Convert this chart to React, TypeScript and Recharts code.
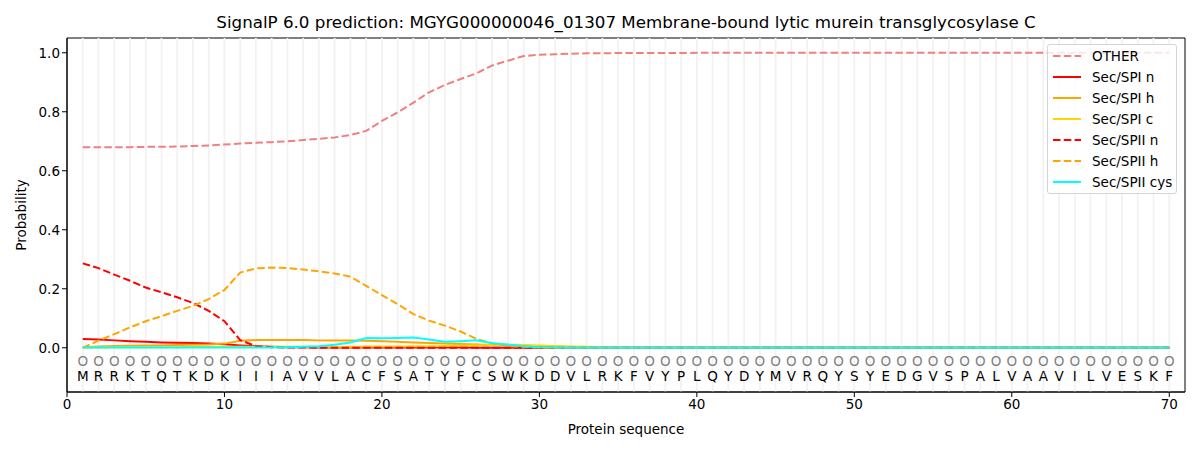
import React from "react";
import {
  ComposedChart,
  Line,
  Scatter,
  XAxis,
  YAxis,
  ReferenceLine,
  ReferenceArea,
  Label,
} from "recharts";

const SEQUENCE = "MRRKTQTKDKIIIAVVLACFSATYFCSWKDDVLRKFVYPLQYDYMVRQYSYEDGVSPALVAAVILVESKF".split("");

const other = [
  0.68, 0.68, 0.68, 0.68, 0.681, 0.681, 0.682, 0.684, 0.686, 0.689,
  0.692, 0.695, 0.697, 0.7, 0.704, 0.708, 0.713, 0.721, 0.735, 0.769,
  0.798, 0.831, 0.866, 0.891, 0.911, 0.93, 0.957, 0.973, 0.989, 0.993,
  0.995, 0.997, 0.998, 0.998, 0.999, 0.999, 0.999, 0.999, 0.999, 1.0,
  1.0, 1.0, 1.0, 1.0, 1.0, 1.0, 1.0, 1.0, 1.0, 1.0,
  1.0, 1.0, 1.0, 1.0, 1.0, 1.0, 1.0, 1.0, 1.0, 1.0,
  1.0, 1.0, 1.0, 1.0, 1.0, 1.0, 1.0, 1.0, 1.0, 1.0,
];
const spiN = [
  0.03, 0.028, 0.025, 0.022, 0.02, 0.018, 0.017, 0.016, 0.014, 0.012,
  0.008, 0.005, 0.003, 0.002, 0.002, 0.001, 0.001, 0.001, 0.001, 0.001,
  0.001, 0.001, 0.001, 0.001, 0.001, 0, 0, 0, 0, 0,
  0, 0, 0, 0, 0, 0, 0, 0, 0, 0,
  0, 0, 0, 0, 0, 0, 0, 0, 0, 0,
  0, 0, 0, 0, 0, 0, 0, 0, 0, 0,
  0, 0, 0, 0, 0, 0, 0, 0, 0, 0,
];
const spiH = [
  0.002, 0.004, 0.006, 0.007, 0.008, 0.008, 0.009, 0.01, 0.011, 0.014,
  0.024, 0.026, 0.026, 0.026, 0.026, 0.025, 0.025, 0.025, 0.024, 0.022,
  0.02, 0.018, 0.016, 0.014, 0.013, 0.011, 0.009, 0.007, 0.005, 0.004,
  0.003, 0.002, 0.001, 0, 0, 0, 0, 0, 0, 0,
  0, 0, 0, 0, 0, 0, 0, 0, 0, 0,
  0, 0, 0, 0, 0, 0, 0, 0, 0, 0,
  0, 0, 0, 0, 0, 0, 0, 0, 0, 0,
];
const spiC = [
  0.001, 0.001, 0.002, 0.002, 0.002, 0.002, 0.002, 0.003, 0.003, 0.003,
  0.003, 0.003, 0.003, 0.003, 0.003, 0.003, 0.003, 0.003, 0.004, 0.004,
  0.004, 0.005, 0.005, 0.006, 0.007, 0.008, 0.009, 0.01, 0.009, 0.008,
  0.006, 0.004, 0.003, 0.002, 0.001, 0, 0, 0, 0, 0,
  0, 0, 0, 0, 0, 0, 0, 0, 0, 0,
  0, 0, 0, 0, 0, 0, 0, 0, 0, 0,
  0, 0, 0, 0, 0, 0, 0, 0, 0, 0,
];
const spiiN = [
  0.286, 0.27, 0.248, 0.227, 0.204, 0.188, 0.171, 0.152, 0.125, 0.09,
  0.026, 0.005, 0.002, 0.001, 0.001, 0, 0, 0, 0, 0,
  0, 0, 0, 0, 0, 0, 0, 0, 0, 0,
  0, 0, 0, 0, 0, 0, 0, 0, 0, 0,
  0, 0, 0, 0, 0, 0, 0, 0, 0, 0,
  0, 0, 0, 0, 0, 0, 0, 0, 0, 0,
  0, 0, 0, 0, 0, 0, 0, 0, 0, 0,
];
const spiiH = [
  0.0, 0.024, 0.046, 0.069, 0.09, 0.107, 0.125, 0.142, 0.165, 0.196,
  0.255, 0.269, 0.272, 0.27, 0.265, 0.259, 0.252, 0.241, 0.21, 0.178,
  0.148, 0.114, 0.092, 0.075, 0.055, 0.03, 0.015, 0.006, 0.003, 0.001,
  0, 0, 0, 0, 0, 0, 0, 0, 0, 0,
  0, 0, 0, 0, 0, 0, 0, 0, 0, 0,
  0, 0, 0, 0, 0, 0, 0, 0, 0, 0,
  0, 0, 0, 0, 0, 0, 0, 0, 0, 0,
];
const spiiCys = [
  0.001, 0.001, 0.001, 0.001, 0.001, 0.001, 0.001, 0.001, 0.001, 0.001,
  0.001, 0.001, 0.001, 0.002, 0.003, 0.005, 0.01, 0.018, 0.033, 0.032,
  0.033, 0.035, 0.028, 0.02, 0.022, 0.025, 0.015, 0.011, 0.005, 0.002,
  0.001, 0, 0, 0, 0, 0, 0, 0, 0, 0,
  0, 0, 0, 0, 0, 0, 0, 0, 0, 0,
  0, 0, 0, 0, 0, 0, 0, 0, 0, 0,
  0, 0, 0, 0, 0, 0, 0, 0, 0, 0,
];

const xTicks = [0, 10, 20, 30, 40, 50, 60, 70];
const yTicks = [0, 0.2, 0.4, 0.6, 0.8, 1.0];

const series = [
  { key: "other", name: "OTHER", color: "#f08080", dashed: true },
  { key: "spiN", name: "Sec/SPI n", color: "#ff0000", dashed: false },
  { key: "spiH", name: "Sec/SPI h", color: "#ffa500", dashed: false },
  { key: "spiC", name: "Sec/SPI c", color: "#ffd700", dashed: false },
  { key: "spiiN", name: "Sec/SPII n", color: "#ff0000", dashed: true },
  { key: "spiiH", name: "Sec/SPII h", color: "#ffa500", dashed: true },
  { key: "spiiCys", name: "Sec/SPII cys", color: "#00ffff", dashed: false },
];

const data = SEQUENCE.map((aa, i) => ({
  pos: i + 1,
  other: other[i],
  spiN: spiN[i],
  spiH: spiH[i],
  spiC: spiC[i],
  spiiN: spiiN[i],
  spiiH: spiiH[i],
  spiiCys: spiiCys[i],
}));

const RESIDUE_Y = -0.045;
const residues = SEQUENCE.map((aa, i) => ({ pos: i + 1, y: RESIDUE_Y, aa }));

const FONT = "'DejaVu Sans', sans-serif";
const DASH = "7.5 3.3";

const ResidueMark = (props: any) => {
  const { cx, cy, payload } = props;
  return (
    <g>
      <text x={cx} y={cy} dy="0.35em" textAnchor="middle" fill="#808080" fontSize={13.5} fontFamily={FONT}>
        O
      </text>
      <text x={cx} y={cy + 15} dy="0.35em" textAnchor="middle" fill="#000" fontSize={13.5} fontFamily={FONT}>
        {payload.aa}
      </text>
    </g>
  );
};

export default function App() {
  return (
    <div style={{ position: "absolute", left: 0, top: 0, width: 1200, height: 450, background: "#fff", fontFamily: FONT }}>
      <div
        style={{
          position: "absolute",
          left: 67,
          width: 1118,
          top: 12,
          textAlign: "center",
          fontSize: 16.7,
          lineHeight: "20px",
          color: "#000",
        }}
      >
        SignalP 6.0 prediction: MGYG000000046_01307 Membrane-bound lytic murein transglycosylase C
      </div>
      <ComposedChart width={1200} height={450} data={data} margin={{ top: 38, right: 15, bottom: 0, left: 0 }}>
        <XAxis
          dataKey="pos"
          type="number"
          domain={[0, 71]}
          ticks={xTicks}
          allowDataOverflow
          height={58}
          tickSize={5}
          stroke="#000"
          tick={{ fill: "#000", fontSize: 13.5, fontFamily: FONT }}
        >
          <Label value="Protein sequence" position="insideBottom" offset={16} fill="#000" fontSize={13.5} fontFamily={FONT} />
        </XAxis>
        <YAxis
          type="number"
          domain={[-0.15, 1.05]}
          ticks={yTicks}
          allowDataOverflow
          width={67}
          tickSize={5}
          stroke="#000"
          tickFormatter={(v: number) => v.toFixed(1)}
          tick={{ fill: "#000", fontSize: 13.5, fontFamily: FONT }}
        >
          <Label value="Probability" angle={-90} position="insideLeft" offset={21} fill="#000" fontSize={13.5} fontFamily={FONT} style={{ textAnchor: "middle" }} />
        </YAxis>
        {data.map((d) => (
          <ReferenceLine key={d.pos} x={d.pos} stroke="#f2f2f2" strokeWidth={1.8} />
        ))}
        {series.map((s) => (
          <Line
            key={s.key}
            dataKey={s.key}
            name={s.name}
            type="linear"
            stroke={s.color}
            strokeWidth={2}
            strokeDasharray={s.dashed ? DASH : undefined}
            dot={false}
            activeDot={false}
            isAnimationActive={false}
          />
        ))}
        <Scatter data={residues} dataKey="y" shape={ResidueMark} isAnimationActive={false} />
        <ReferenceArea x1={0} x2={71} y1={-0.15} y2={1.05} fill="none" stroke="#000" strokeWidth={1} ifOverflow="visible" />
      </ComposedChart>
      <div
        style={{
          position: "absolute",
          left: 1047,
          top: 44,
          width: 130,
          height: 150,
          border: "1px solid #d5d5d5",
          borderRadius: 3,
          background: "rgba(255,255,255,0.8)",
          boxSizing: "border-box",
          paddingTop: 0,
        }}
      >
        {series.map((s) => (
          <div key={s.key} style={{ display: "flex", alignItems: "center", height: 21, fontSize: 13.5, color: "#000" }}>
            <svg width={44} height={10} style={{ flex: "none" }}>
              <line
                x1={5}
                x2={33}
                y1={5}
                y2={5}
                stroke={s.color}
                strokeWidth={2}
                strokeDasharray={s.dashed ? DASH : undefined}
              />
            </svg>
            <span>{s.name}</span>
          </div>
        ))}
      </div>
    </div>
  );
}
